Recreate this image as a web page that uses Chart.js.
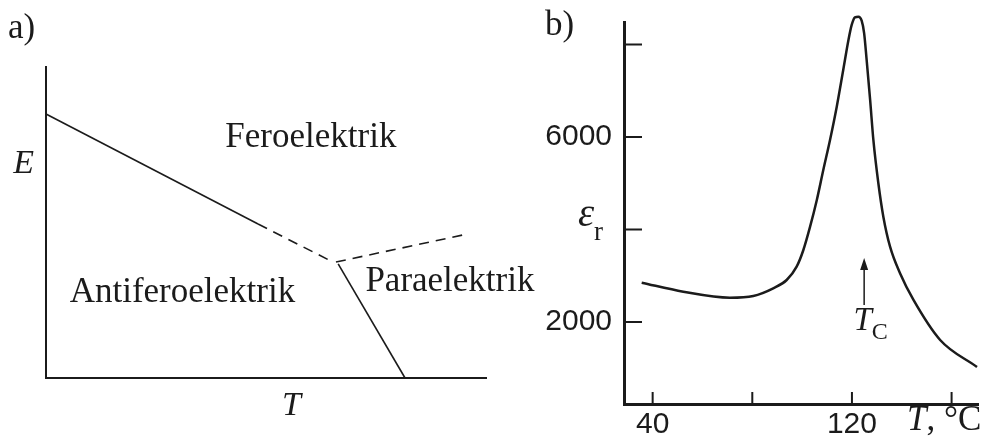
<!DOCTYPE html>
<html>
<head>
<meta charset="utf-8">
<script src="https://cdn.jsdelivr.net/npm/chart.js@4.4.0/dist/chart.umd.min.js"></script>
<style>
  html, body { margin: 0; background: #fff; }
  #wrap { position: relative; width: 983px; height: 447px; overflow: hidden; }
  .panel { position: absolute; top: 0; height: 447px; }
  #phase { left: 0; width: 560px; }
  #perm { left: 500px; width: 483px; }
</style>
</head>
<body>
<div id="wrap">
  <div class="panel" id="phase"><canvas id="phaseChart"></canvas></div>
  <div class="panel" id="perm"><canvas id="permChart"></canvas></div>
</div>
<script>
const ink = '#1b1b1b';
const serif = '"Liberation Serif", "Times New Roman", serif';

// a) phase diagram, E against T in relative units (0..100 on both axes)
const afeFeSolid = [[0, 84.9], [48.2, 49.5]];
const afeFeDashed = [[48.2, 49.5], [65.2, 37.3]];
const peFeDashed = [[65.9, 37.3], [94.8, 46.0]];
const afePeSolid = [[66.4, 36.7], [81.6, 0]];
const phaseNames = ['Feroelektrik', 'Antiferoelektrik', 'Paraelektrik'];
const phaseNameX = [60.2, 31.0, 91.8];
const phaseNameY = [74.3, 24.4, 28.0];

// b) relative permittivity against temperature
const tempC = [35.6, 52.3, 71.0, 80.4, 88.4, 93.8, 97.8, 100.5, 103.2, 105.9, 108.5, 111.2,
  113.9, 116.5, 118.6, 119.9, 121.2, 122.6, 123.9, 124.9, 125.9, 127.3, 128.6, 130.6,
  132.6, 135.3, 139.3, 144.7, 155.4, 170.2];
const epsR = [2850, 2655, 2525, 2562, 2728, 2908, 3196, 3557, 4061, 4638, 5286, 5935,
  6655, 7449, 8097, 8422, 8588, 8601, 8515, 8242, 7665, 6800, 5935, 4999,
  4277, 3628, 3053, 2476, 1611, 1027];
const tempTicks = [40, 80, 120, 160];
const tempLabels = ['40', '', '120', ''];
const epsTicks = [2000, 4000, 6000, 8000];
const epsLabels = ['2000', '', '6000', ''];
const curieTemp = 124.9;
const curieArrow = [2368, 3384];

const toPoints = arr => arr.map(p => ({ x: p[0], y: p[1] }));

function boundary(points, dashed) {
  return {
    data: toPoints(points),
    showLine: true,
    borderColor: ink,
    borderWidth: 1.6,
    borderDash: dashed ? [10, 7] : [],
    pointRadius: 0,
    clip: false
  };
}

// draws a run of text pieces left to right from (x, baseline)
function drawRun(ctx, x, y, parts) {
  parts.forEach(p => {
    ctx.font = p.font;
    ctx.fillText(p.t, x, y + (p.dy || 0));
    x += ctx.measureText(p.t).width;
  });
}

const phaseText = {
  id: 'phaseText',
  afterDraw(chart) {
    const { ctx, scales: { x, y } } = chart;
    ctx.save();
    ctx.fillStyle = ink;
    ctx.textBaseline = 'alphabetic';
    ctx.textAlign = 'center';
    ctx.font = '35px ' + serif;
    phaseNames.forEach((name, i) => {
      ctx.fillText(name, x.getPixelForValue(phaseNameX[i]), y.getPixelForValue(phaseNameY[i]));
    });
    ctx.font = 'italic 34px ' + serif;
    ctx.fillText('E', x.getPixelForValue(-5.1), y.getPixelForValue(65.9));
    ctx.fillText('T', x.getPixelForValue(55.8), y.getPixelForValue(-11.9));
    ctx.textAlign = 'left';
    ctx.font = '35px ' + serif;
    ctx.fillText('a)', 8, 38);
    ctx.restore();
  }
};

new Chart(document.getElementById('phaseChart'), {
  type: 'scatter',
  data: {
    datasets: [
      boundary(afeFeSolid, false),
      boundary(afeFeDashed, true),
      boundary(peFeDashed, true),
      boundary(afePeSolid, false)
    ]
  },
  options: {
    responsive: true,
    maintainAspectRatio: false,
    animation: false,
    layout: { padding: { top: 67, right: 74, left: 0, bottom: 0 } },
    plugins: { legend: { display: false }, tooltip: { enabled: false } },
    scales: {
      x: {
        type: 'linear', min: 0, max: 100,
        ticks: { display: false },
        grid: { display: false, drawTicks: false },
        border: { color: ink, width: 2 },
        afterFit: s => { s.height = 69; s.paddingLeft = 0; s.paddingRight = 0; }
      },
      y: {
        type: 'linear', min: 0, max: 100,
        ticks: { display: false },
        grid: { display: false, drawTicks: false },
        border: { color: ink, width: 2 },
        afterFit: s => { s.width = 46; s.paddingTop = 0; s.paddingBottom = 0; }
      }
    }
  },
  plugins: [phaseText]
});

const permExtras = {
  id: 'permExtras',
  afterDraw(chart) {
    const { ctx, chartArea, scales: { x, y } } = chart;
    ctx.save();
    ctx.strokeStyle = ink;
    ctx.fillStyle = ink;

    // ticks point into the plot
    ctx.lineWidth = 2;
    ctx.beginPath();
    tempTicks.forEach(v => {
      const px = x.getPixelForValue(v);
      ctx.moveTo(px, chartArea.bottom);
      ctx.lineTo(px, chartArea.bottom - 12);
    });
    epsTicks.forEach(v => {
      const py = y.getPixelForValue(v);
      ctx.moveTo(chartArea.left, py);
      ctx.lineTo(chartArea.left + 18, py);
    });
    ctx.stroke();

    // Curie point arrow
    const ax = x.getPixelForValue(curieTemp);
    const ay0 = y.getPixelForValue(curieArrow[0]);
    const ay1 = y.getPixelForValue(curieArrow[1]);
    ctx.lineWidth = 1.5;
    ctx.beginPath();
    ctx.moveTo(ax, ay0);
    ctx.lineTo(ax, ay1 + 8);
    ctx.stroke();
    ctx.beginPath();
    ctx.moveTo(ax, ay1);
    ctx.lineTo(ax - 4, ay1 + 12);
    ctx.lineTo(ax + 4, ay1 + 12);
    ctx.closePath();
    ctx.fill();

    ctx.textBaseline = 'alphabetic';
    ctx.textAlign = 'left';
    drawRun(ctx, x.getPixelForValue(120.6), y.getPixelForValue(1827), [
      { t: 'T', font: 'italic 33px ' + serif },
      { t: 'C', font: '24px ' + serif, dy: 9 }
    ]);
    drawRun(ctx, x.getPixelForValue(10.0), y.getPixelForValue(4076), [
      { t: 'ε', font: 'italic 41px ' + serif },
      { t: 'r', font: '27px ' + serif, dy: 14 }
    ]);
    drawRun(ctx, x.getPixelForValue(142.1), y.getPixelForValue(-335), [
      { t: 'T', font: 'italic 35px ' + serif },
      { t: ', °C', font: '35px ' + serif }
    ]);
    ctx.font = '35px ' + serif;
    ctx.fillText('b)', 45, 35);
    ctx.restore();
  }
};

new Chart(document.getElementById('permChart'), {
  type: 'line',
  data: {
    datasets: [{
      data: tempC.map((t, i) => ({ x: t, y: epsR[i] })),
      borderColor: ink,
      borderWidth: 2.5,
      pointRadius: 0,
      cubicInterpolationMode: 'monotone',
      fill: false,
      clip: false
    }]
  },
  options: {
    responsive: true,
    maintainAspectRatio: false,
    animation: false,
    layout: { padding: { top: 22, right: 5, left: 0, bottom: 0 } },
    plugins: { legend: { display: false }, tooltip: { enabled: false } },
    scales: {
      x: {
        type: 'linear', min: 28.5, max: 170.6,
        afterBuildTicks: s => { s.ticks = tempTicks.map(v => ({ value: v })); },
        ticks: {
          autoSkip: false, maxRotation: 0, padding: 3, color: ink,
          font: { family: '"Liberation Sans", Arial, sans-serif', size: 30 },
          callback: v => tempLabels[tempTicks.indexOf(v)]
        },
        grid: { display: false, drawTicks: false },
        border: { color: ink, width: 3 },
        afterFit: s => { s.height = 43; s.paddingLeft = 0; s.paddingRight = 0; }
      },
      y: {
        type: 'linear', min: 227, max: 8486,
        afterBuildTicks: s => { s.ticks = epsTicks.map(v => ({ value: v })); },
        ticks: {
          autoSkip: false, padding: 12, color: ink,
          font: { family: '"Liberation Sans", Arial, sans-serif', size: 30 },
          callback: v => epsLabels[epsTicks.indexOf(v)]
        },
        grid: { display: false, drawTicks: false },
        border: { color: ink, width: 3 },
        afterFit: s => { s.width = 124; s.paddingTop = 0; s.paddingBottom = 0; }
      }
    }
  },
  plugins: [permExtras]
});
</script>
</body>
</html>
